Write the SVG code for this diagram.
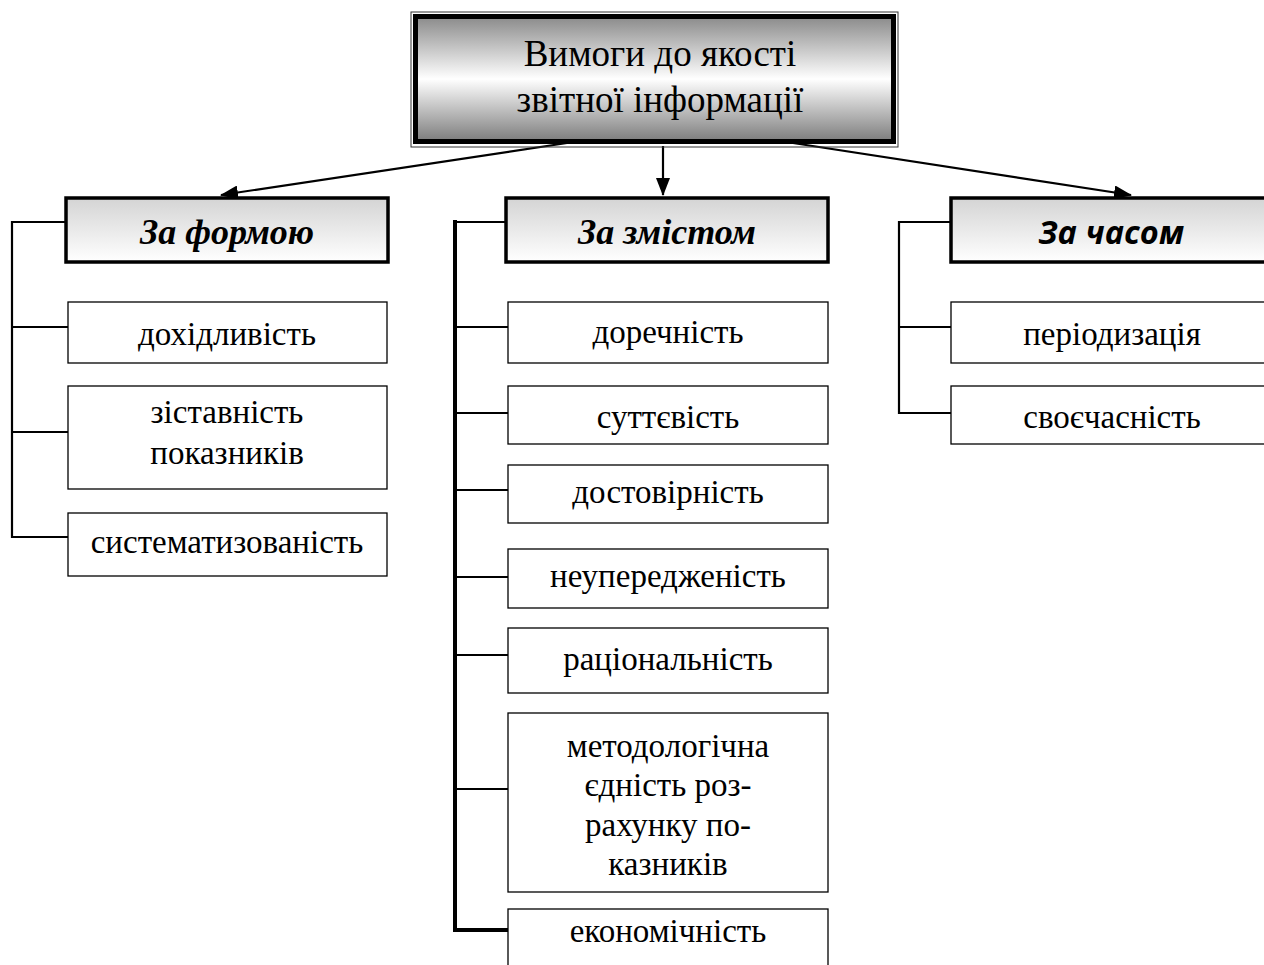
<svg xmlns="http://www.w3.org/2000/svg" width="1264" height="965" viewBox="0 0 1264 965">
<defs>
<linearGradient id="gTop" x1="0" y1="0" x2="0" y2="1">
<stop offset="0" stop-color="#8a8a8a"/>
<stop offset="0.5" stop-color="#ffffff"/>
<stop offset="1" stop-color="#7c7c7c"/>
</linearGradient>
<linearGradient id="gCat" x1="0" y1="0" x2="0" y2="1">
<stop offset="0" stop-color="#d4d4d4"/>
<stop offset="1" stop-color="#ffffff"/>
</linearGradient>
<marker id="arr" markerUnits="userSpaceOnUse" markerWidth="18" markerHeight="14" refX="17" refY="7" orient="auto">
<path d="M0,0 L18,7 L0,14 Z" fill="#000"/>
</marker>
<style>
.leaf{fill:#fff;stroke:#000;stroke-width:1.3}
.cat{fill:url(#gCat);stroke:#000;stroke-width:3.5}
.t{font-family:"Liberation Serif","Times New Roman",serif;font-size:33px;fill:#000;text-anchor:middle}
.ct{font-family:"Liberation Serif","Times New Roman",serif;font-size:36px;font-weight:bold;font-style:italic;fill:#000;text-anchor:middle}
.cs{font-family:"Open Sans","Noto Sans",sans-serif;font-size:32.5px;font-weight:bold;font-style:italic;fill:#000;text-anchor:middle}
.c{fill:none;stroke:#000;stroke-width:2.2}
.cw{fill:none;stroke:#000;stroke-width:4}
.a{fill:none;stroke:#000;stroke-width:2.2}
</style>
</defs>

<g id="connectors">
<line class="a" x1="567" y1="143" x2="221" y2="195" marker-end="url(#arr)"/>
<line class="a" x1="663" y1="146" x2="663" y2="195" marker-end="url(#arr)"/>
<line class="a" x1="793" y1="143" x2="1131" y2="195" marker-end="url(#arr)"/>
<polyline class="c" points="65,222 12,222 12,537 68,537"/>
<line class="c" x1="12" y1="327" x2="68" y2="327"/>
<line class="c" x1="12" y1="432" x2="68" y2="432"/>
<polyline class="c" points="505,222 455,222"/>
<polyline class="cw" points="455,220 455,930 508,930"/>
<line class="c" x1="455" y1="327" x2="508" y2="327"/>
<line class="c" x1="455" y1="413" x2="508" y2="413"/>
<line class="c" x1="455" y1="490" x2="508" y2="490"/>
<line class="c" x1="455" y1="577" x2="508" y2="577"/>
<line class="c" x1="455" y1="655" x2="508" y2="655"/>
<line class="c" x1="455" y1="789" x2="508" y2="789"/>
<polyline class="c" points="950,222 899,222 899,413 951,413"/>
<line class="c" x1="899" y1="327" x2="951" y2="327"/>
</g>

<g id="root">
<rect x="411" y="12" width="487" height="135" fill="none" stroke="#333" stroke-width="1"/>
<rect x="415.5" y="16.5" width="478" height="125" fill="url(#gTop)" stroke="#000" stroke-width="5"/>
<text class="t" x="660" y="66" style="font-size:37px">Вимоги до якості</text>
<text class="t" x="660" y="112" style="font-size:37px">звітної інформації</text>
</g>

<g id="cat-form">
<rect class="cat" x="66" y="198" width="322" height="64"/>
<text class="ct" x="227" y="244">За формою</text>
</g>
<g id="cat-content">
<rect class="cat" x="506" y="198" width="322" height="64"/>
<text class="ct" x="667" y="244">За змістом</text>
</g>
<g id="cat-time">
<rect class="cat" x="951" y="198" width="322" height="64"/>
<text class="cs" x="1111" y="244">За часом</text>
</g>

<g id="f1"><rect class="leaf" x="68" y="302" width="319" height="61"/><text class="t" x="227" y="345">дохідливість</text></g>
<g id="f2"><rect class="leaf" x="68" y="386" width="319" height="103"/><text class="t" x="227" y="423">зіставність</text><text class="t" x="227" y="464">показників</text></g>
<g id="f3"><rect class="leaf" x="68" y="513" width="319" height="63"/><text class="t" x="227" y="553">систематизованість</text></g>

<g id="s1"><rect class="leaf" x="508" y="302" width="320" height="61"/><text class="t" x="668" y="343">доречність</text></g>
<g id="s2"><rect class="leaf" x="508" y="386" width="320" height="58"/><text class="t" x="668" y="428">суттєвість</text></g>
<g id="s3"><rect class="leaf" x="508" y="465" width="320" height="58"/><text class="t" x="668" y="503">достовірність</text></g>
<g id="s4"><rect class="leaf" x="508" y="549" width="320" height="59"/><text class="t" x="668" y="587">неупередженість</text></g>
<g id="s5"><rect class="leaf" x="508" y="628" width="320" height="65"/><text class="t" x="668" y="670">раціональність</text></g>
<g id="s6"><rect class="leaf" x="508" y="713" width="320" height="179"/><text class="t" x="668" y="757">методологічна</text><text class="t" x="668" y="796">єдність роз-</text><text class="t" x="668" y="836">рахунку по-</text><text class="t" x="668" y="875">казників</text></g>
<g id="s7"><rect class="leaf" x="508" y="909" width="320" height="70"/><text class="t" x="668" y="942">економічність</text></g>

<g id="t1"><rect class="leaf" x="951" y="302" width="322" height="61"/><text class="t" x="1112" y="345">періодизація</text></g>
<g id="t2"><rect class="leaf" x="951" y="386" width="322" height="58"/><text class="t" x="1112" y="428">своєчасність</text></g>
</svg>
